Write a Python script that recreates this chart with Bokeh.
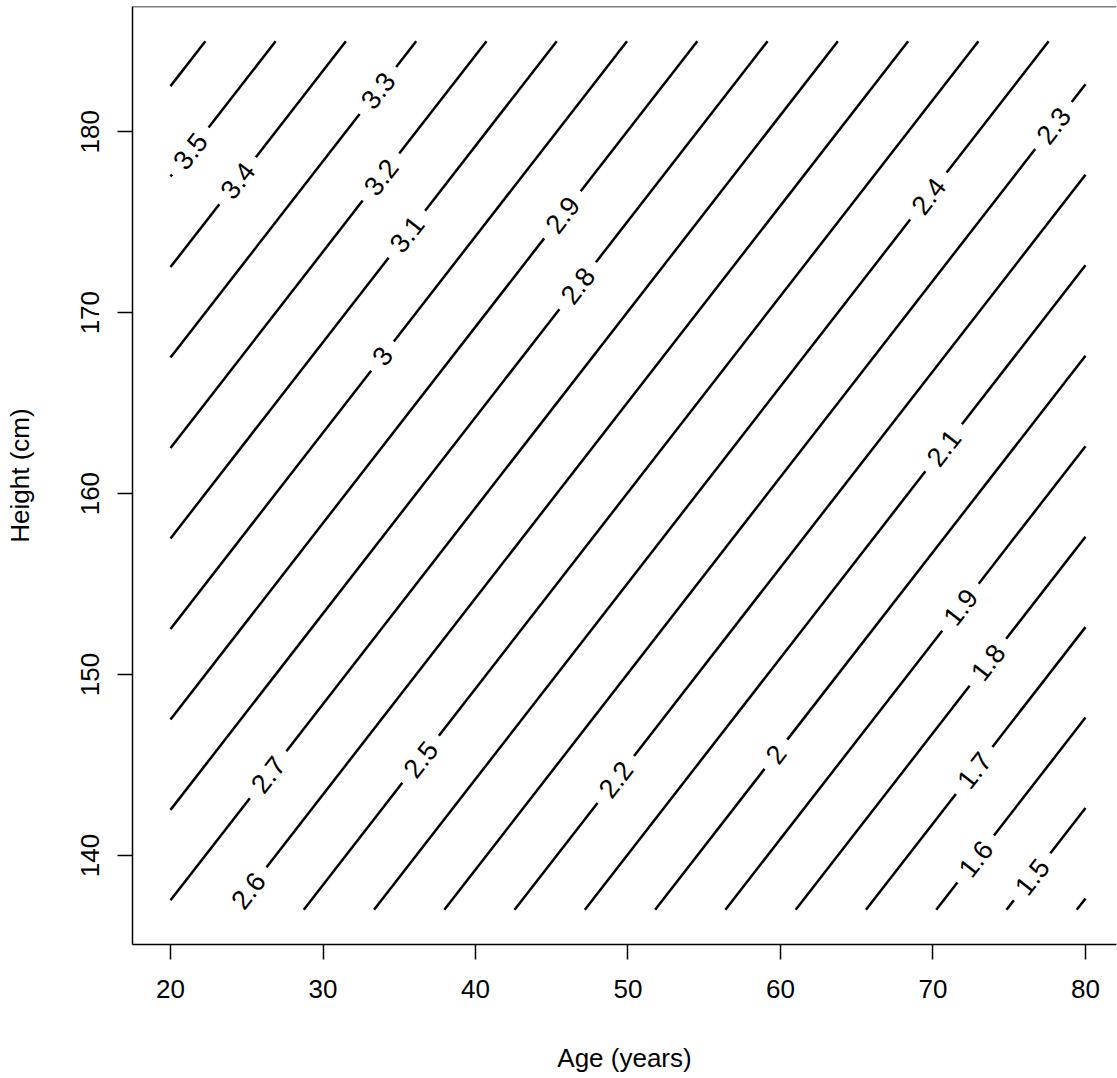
import math
from bokeh.plotting import figure
from bokeh.models import FixedTicker, Range1d, Span
from bokeh.embed import file_html
from bokeh.resources import INLINE
from bokeh.core.properties import value

intercept = 0.3836
height_coef = 0.02      # per cm
age_coef = -0.0217      # per year

levels = [1.4, 1.5, 1.6, 1.7, 1.8, 1.9, 2.0, 2.1, 2.2, 2.3, 2.4, 2.5,
          2.6, 2.7, 2.8, 2.9, 3.0, 3.1, 3.2, 3.3, 3.4, 3.5, 3.6]
age_domain = [20, 80]
height_domain = [137, 185]

label_levels = [3.5, 3.4, 3.3, 3.2, 3.1, 3.0, 2.9, 2.8, 2.7, 2.6, 2.5,
                2.4, 2.3, 2.2, 2.1, 2.0, 1.9, 1.8, 1.7, 1.6, 1.5]
label_ages = [21.3, 24.4, 33.6, 33.8, 35.5, 33.9, 45.7, 46.7, 26.4, 25.1, 36.4,
              69.7, 77.9, 49.2, 70.7, 59.7, 71.8, 73.6, 72.7, 72.8, 76.5]

x_ticks = [20, 30, 40, 50, 60, 70, 80]
y_ticks = [140, 150, 160, 170, 180]

# ---- layout ----
W, H = 1117, 1078
ML, MR, MT, MB = 132, 1, 6, 134
x0, x1 = 17.508, 82.033
y0, y1 = 135.08, 186.92
FONT = "Liberation Sans"
LABEL_PX = 27

frame_w = W - ML - MR
frame_h = H - MT - MB
ppx = frame_w / (x1 - x0)
ppy = frame_h / (y1 - y0)

p = figure(width=W, height=H, output_backend="svg", toolbar_location=None,
           x_range=Range1d(x0, x1), y_range=Range1d(y0, y1),
           min_border_left=ML, min_border_right=MR,
           min_border_top=MT, min_border_bottom=MB,
           x_axis_label="Age (years)", y_axis_label="Height (cm)")
p.outline_line_color = None
p.xgrid.visible = False
p.ygrid.visible = False
p.background_fill_color = "white"
p.border_fill_color = "white"

for ax, ticks in ((p.xaxis[0], x_ticks), (p.yaxis[0], y_ticks)):
    ax.ticker = FixedTicker(ticks=ticks)
    ax.minor_tick_line_color = None
    ax.major_tick_in = 0
    ax.major_tick_out = 15
    ax.major_tick_line_width = 1.5
    ax.axis_line_width = 1.5
    ax.axis_line_color = "black"
    ax.major_tick_line_color = "black"
    ax.major_label_text_font = FONT
    ax.major_label_text_font_size = "26px"
    ax.major_label_text_color = "black"
    ax.axis_label_text_font = FONT
    ax.axis_label_text_font_size = "26px"
    ax.axis_label_text_font_style = "normal"
    ax.axis_label_text_color = "black"

p.xaxis.major_label_standoff = 20
p.xaxis.axis_label_standoff = 42
p.yaxis.major_label_orientation = "vertical"
p.yaxis.major_label_standoff = 18
p.yaxis.axis_label_standoff = 44

p.add_layout(Span(location=y1, dimension="width", line_color="black", line_width=1.5))

# ---- contour lines with label gaps ----
slope = -age_coef / height_coef                 # cm per year
theta = math.atan(slope * ppy / ppx)            # screen angle


def height_at(level, age):
    return (level - intercept - age_coef * age) / height_coef


def age_at(level, height):
    return (height * height_coef + intercept - level) / (-age_coef)


def fmt(v):
    return str(int(round(v))) if abs(v - round(v)) < 1e-9 else f"{v:.1f}"


def text_width(s):
    return sum(0.278 if ch == "." else 0.556 for ch in s) * LABEL_PX


label_map = dict(zip(label_levels, label_ages))
xs, ys = [], []
lx, ly, lt = [], [], []
for lev in levels:
    a_start = max(age_domain[0], age_at(lev, height_domain[0]))
    a_end = min(age_domain[1], age_at(lev, height_domain[1]))
    if a_end <= a_start:
        continue
    pieces = [(a_start, a_end)]
    key = round(lev, 1)
    if key in label_map:
        a0 = label_map[key]
        txt = fmt(lev)
        half = (text_width(txt) + 22) / 2
        da = half * math.cos(theta) / ppx
        pieces = []
        if a0 - da > a_start:
            pieces.append((a_start, a0 - da))
        if a0 + da < a_end:
            pieces.append((a0 + da, a_end))
        lx.append(a0)
        ly.append(height_at(lev, a0))
        lt.append(txt)
    for a, b in pieces:
        xs.append([a, b])
        ys.append([height_at(lev, a), height_at(lev, b)])

p.multi_line(xs, ys, line_color="black", line_width=2.5)
p.text(lx, ly, text=lt, angle=theta, text_align="center", text_baseline="middle",
       text_font=value(FONT), text_font_size=f"{LABEL_PX}px", text_color="black")

open("out.html", "w").write(file_html(p, INLINE))
